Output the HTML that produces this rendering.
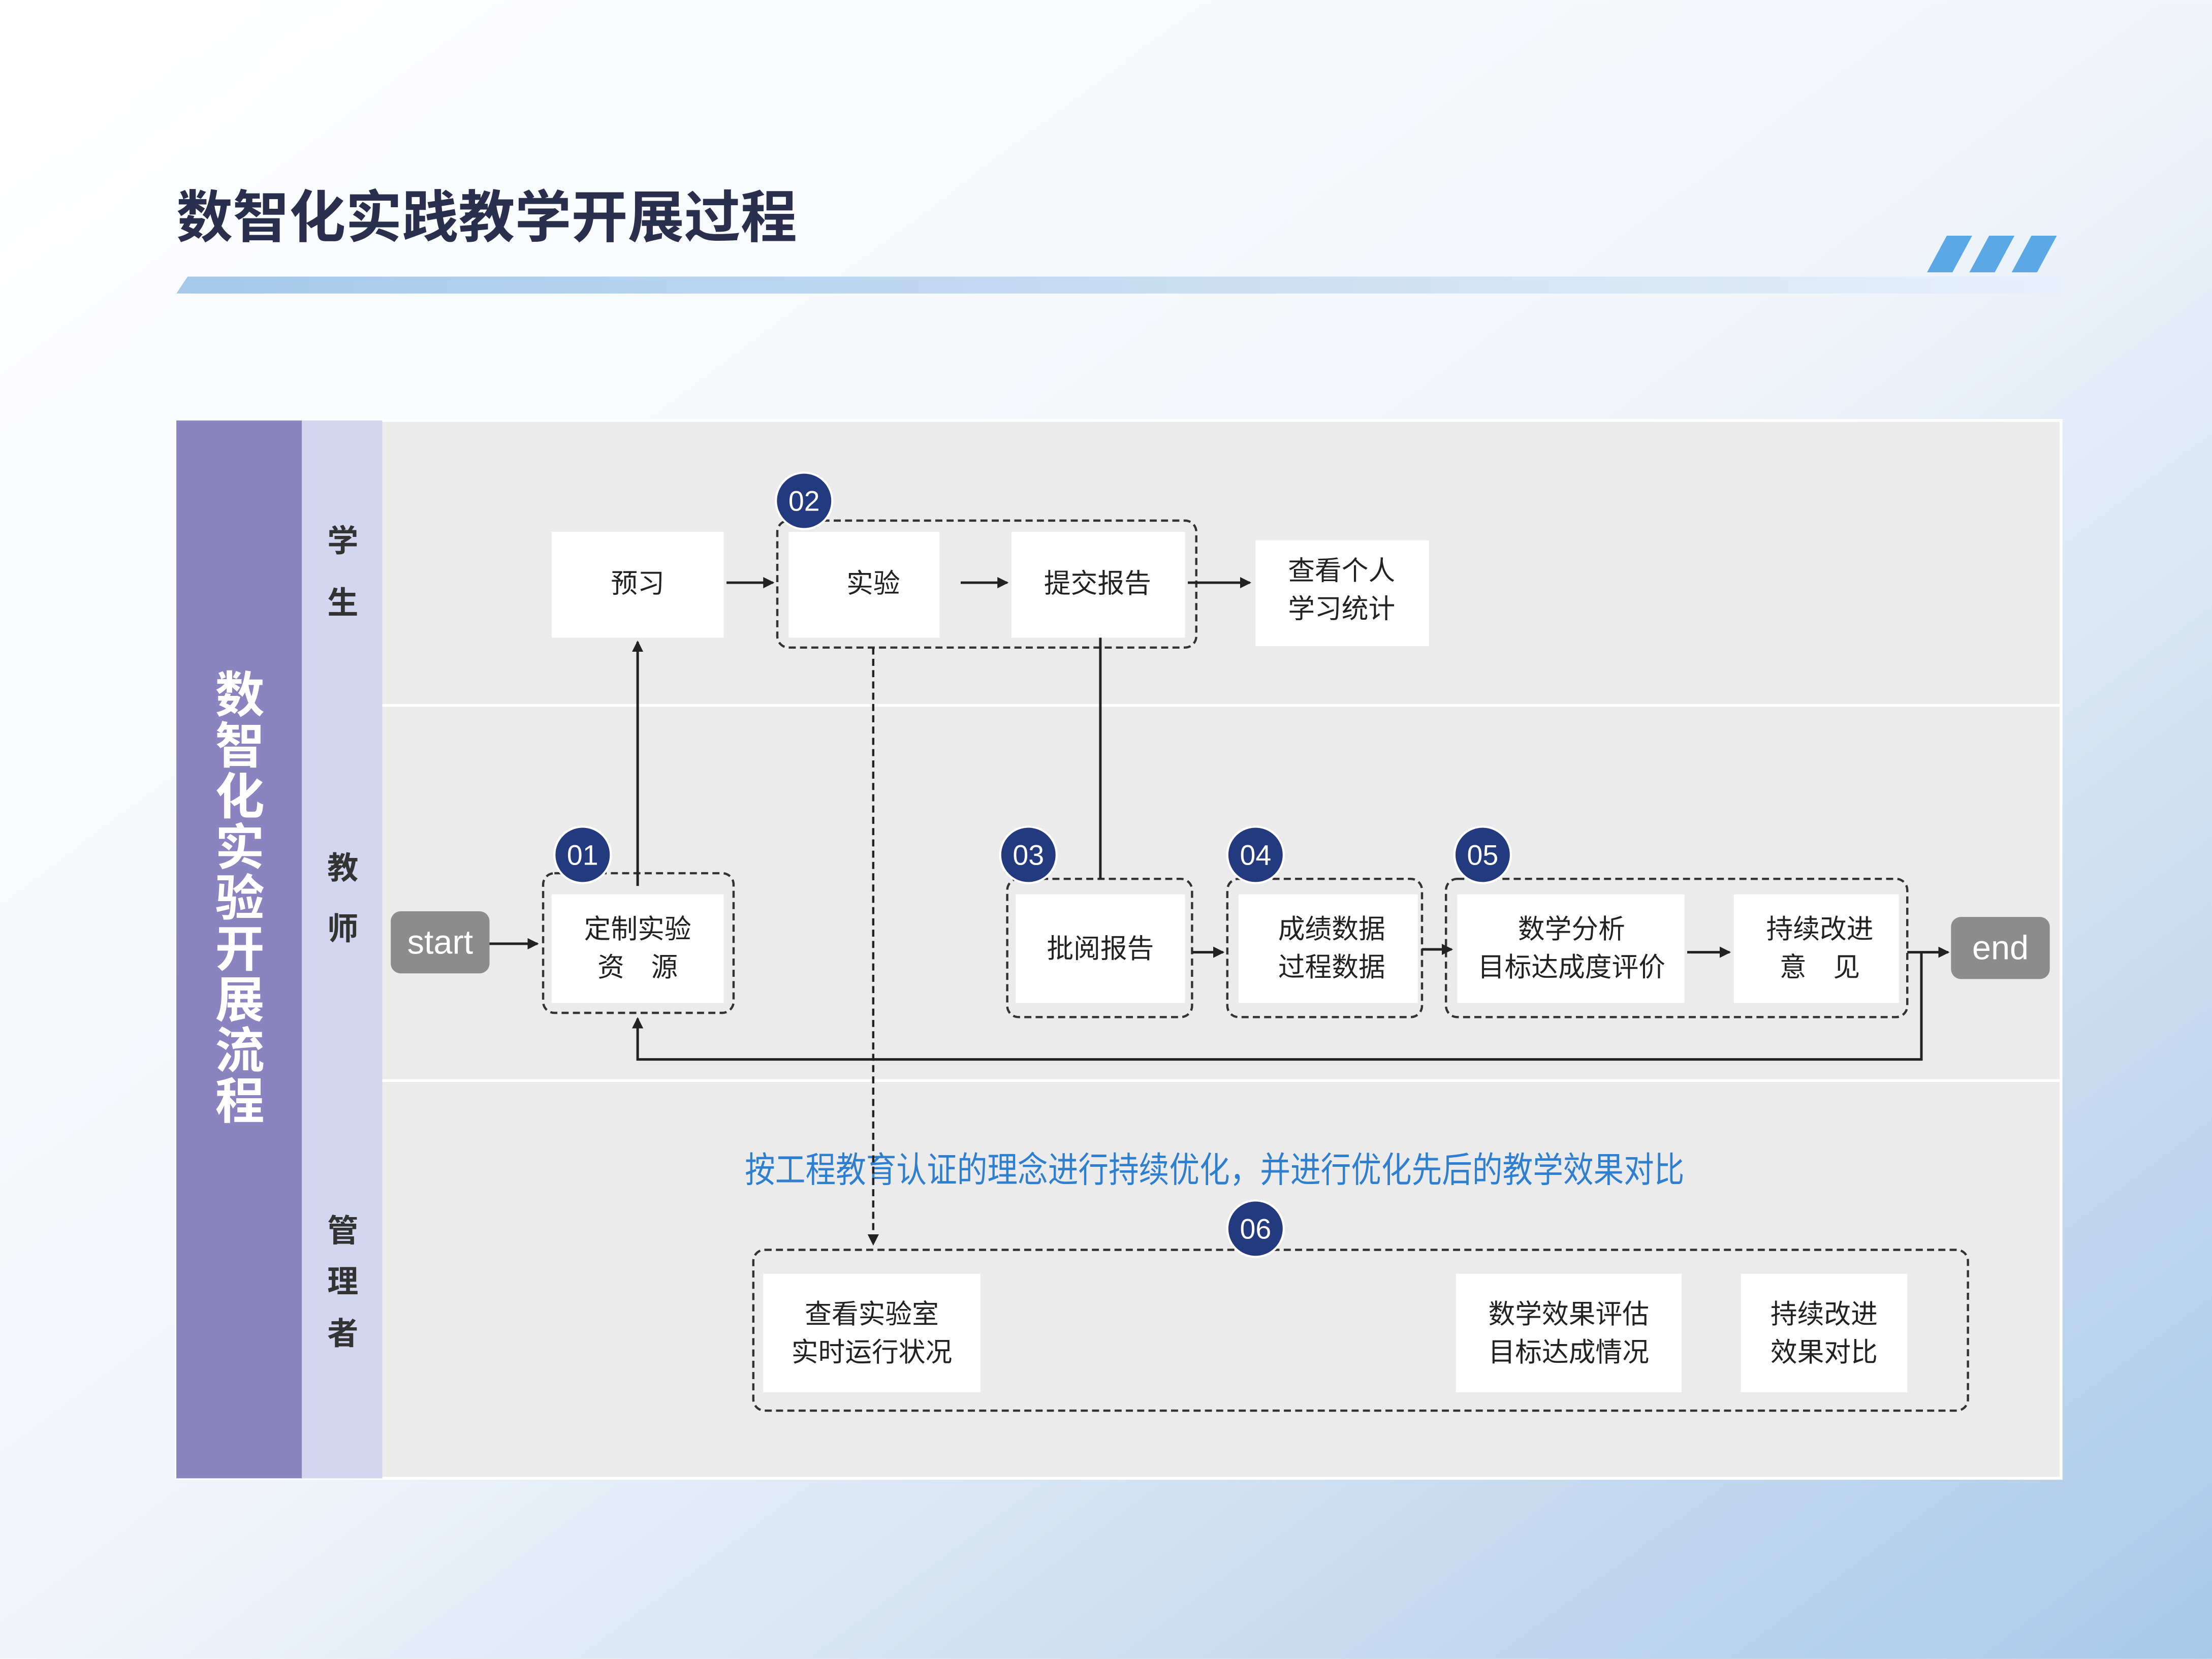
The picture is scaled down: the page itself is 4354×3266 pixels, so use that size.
<!DOCTYPE html>
<html><head><meta charset="utf-8"><style>
html,body{margin:0;padding:0;width:4354px;height:3266px;overflow:hidden}
svg{display:block}
text{font-family:"Liberation Sans","Noto Sans CJK SC",sans-serif}
</style></head><body>
<svg width="4354" height="3266" viewBox="0 0 1568 1176" xmlns="http://www.w3.org/2000/svg">
<defs>
<linearGradient id="bg" x1="0" y1="0" x2="1" y2="1">
<stop offset="0" stop-color="#ffffff"/><stop offset="0.5" stop-color="#f1f5fa"/><stop offset="1" stop-color="#a9c9e9"/>
</linearGradient>
<linearGradient id="bar" x1="0" y1="0" x2="1" y2="0">
<stop offset="0" stop-color="#a6c9ea"/><stop offset="1" stop-color="#e6f0fa"/>
</linearGradient>
<marker id="ar" markerWidth="8" markerHeight="8" refX="7" refY="4" orient="auto" markerUnits="userSpaceOnUse"><path d="M0,0 L8,4 L0,8 z" fill="#222"/></marker>
</defs>
<rect width="1568" height="1176" fill="url(#bg)"/>
<text x="125" y="168" font-size="40" font-weight="bold" fill="#2a2f4e">数智化实践教学开展过程</text>
<polygon points="133,196 1460,196 1460,208 125,208" fill="url(#bar)"/>
<g fill="#5aa9e6">
<polygon points="1380,167 1398,167 1384,193 1366,193"/>
<polygon points="1410,167 1428,167 1414,193 1396,193"/>
<polygon points="1440,167 1458,167 1444,193 1426,193"/>
</g>
<rect x="125" y="298" width="1336" height="750" fill="#ebebeb" stroke="#fff" stroke-width="2"/>
<rect x="125" y="298" width="89" height="750" fill="#8b84c0"/>
<rect x="214" y="298" width="57" height="750" fill="#d3d6ee"/>
<line x1="271" y1="500" x2="1461" y2="500" stroke="#fff" stroke-width="2"/>
<line x1="271" y1="766" x2="1461" y2="766" stroke="#fff" stroke-width="2"/>
<g font-size="35" font-weight="bold" fill="#fff" text-anchor="middle">
<text x="170" y="505">数</text><text x="170" y="541">智</text><text x="170" y="577">化</text><text x="170" y="613">实</text><text x="170" y="649">验</text><text x="170" y="685">开</text><text x="170" y="721">展</text><text x="170" y="757">流</text><text x="170" y="793">程</text>
</g>
<g font-size="22" font-weight="bold" fill="#333" text-anchor="middle">
<text x="243" y="391">学</text><text x="243" y="435">生</text>
<text x="243" y="623">教</text><text x="243" y="666">师</text>
<text x="243" y="880">管</text><text x="243" y="916">理</text><text x="243" y="953">者</text>
</g>
<g fill="none" stroke="#333" stroke-width="1.6" stroke-dasharray="5,3">
<rect x="551" y="369" width="297" height="90" rx="8"/>
<rect x="385" y="619" width="135" height="99" rx="8"/>
<rect x="714" y="623" width="131" height="98" rx="8"/>
<rect x="870" y="623" width="138" height="98" rx="8"/>
<rect x="1025" y="623" width="327" height="98" rx="8"/>
<rect x="534" y="886" width="861" height="114" rx="8"/>
</g>
<g fill="#fff">
<rect x="391" y="377" width="122" height="75"/>
<rect x="559" y="377" width="107" height="75"/>
<rect x="717" y="377" width="123" height="75"/>
<rect x="890" y="383" width="123" height="75"/>
<rect x="391" y="634" width="122" height="77"/>
<rect x="720" y="634" width="120" height="77"/>
<rect x="878" y="634" width="127" height="77"/>
<rect x="1033" y="634" width="161" height="77"/>
<rect x="1229" y="634" width="117" height="77"/>
<rect x="541" y="903" width="154" height="84"/>
<rect x="1032" y="903" width="160" height="84"/>
<rect x="1234" y="903" width="118" height="84"/>
</g>
<rect x="277" y="646" width="70" height="44" rx="7" fill="#8c8c8c"/>
<rect x="1383" y="650" width="70" height="44" rx="7" fill="#8c8c8c"/>
<g font-size="24" fill="#fff" text-anchor="middle"><text x="312" y="676">start</text><text x="1418" y="680">end</text></g>
<g font-size="19" fill="#222" text-anchor="middle">
<text x="452" y="420">预习</text>
<text x="619" y="420">实验</text>
<text x="778" y="420">提交报告</text>
<text x="951" y="411">查看个人</text><text x="951" y="438">学习统计</text>
<text x="452" y="665">定制实验</text><text x="452" y="692">资　源</text>
<text x="780" y="679">批阅报告</text>
<text x="944" y="665">成绩数据</text><text x="944" y="692">过程数据</text>
<text x="1114" y="665">数学分析</text><text x="1114" y="692">目标达成度评价</text>
<text x="1290" y="665">持续改进</text><text x="1290" y="692">意　见</text>
<text x="618" y="938">查看实验室</text><text x="618" y="965">实时运行状况</text>
<text x="1112" y="938">数学效果评估</text><text x="1112" y="965">目标达成情况</text>
<text x="1293" y="938">持续改进</text><text x="1293" y="965">效果对比</text>
</g>
<text x="528" y="838" font-size="25" fill="#2f7fd0" textLength="666" lengthAdjust="spacingAndGlyphs">按工程教育认证的理念进行持续优化，并进行优化先后的教学效果对比</text>
<g stroke="#222" stroke-width="1.8" fill="none" marker-end="url(#ar)">
<line x1="515" y1="413" x2="548" y2="413"/>
<line x1="681" y1="413" x2="714" y2="413"/>
<line x1="842" y1="413" x2="886" y2="413"/>
<line x1="347" y1="669" x2="381" y2="669"/>
<line x1="452" y1="628" x2="452" y2="455"/>
<line x1="845" y1="675" x2="867" y2="675"/>
<line x1="1008" y1="673" x2="1029" y2="673"/>
<line x1="1196" y1="675" x2="1226" y2="675"/>
<line x1="1352" y1="675" x2="1381" y2="675"/>
<polyline points="1362,675 1362,751 452,751 452,722"/>
</g>
<line x1="780" y1="452" x2="780" y2="623" stroke="#222" stroke-width="1.8"/>
<line x1="619" y1="459" x2="619" y2="882" stroke="#222" stroke-width="1.6" stroke-dasharray="5,3" marker-end="url(#ar)"/>
<g fill="#243a7e" stroke="#fff" stroke-width="1.5">
<circle cx="570" cy="355" r="20"/><circle cx="413" cy="606" r="20"/><circle cx="729" cy="606" r="20"/>
<circle cx="890" cy="606" r="20"/><circle cx="1051" cy="606" r="20"/><circle cx="890" cy="871" r="20"/>
</g>
<g font-size="20" fill="#fff" text-anchor="middle">
<text x="570" y="362">02</text><text x="413" y="613">01</text><text x="729" y="613">03</text>
<text x="890" y="613">04</text><text x="1051" y="613">05</text><text x="890" y="878">06</text>
</g>
</svg>
</body></html>
